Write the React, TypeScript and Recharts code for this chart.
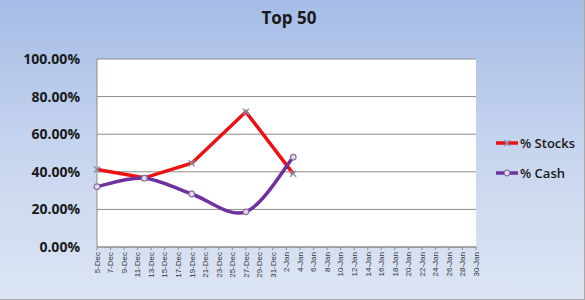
import React from 'react';
import { LineChart, Line, XAxis, YAxis, CartesianGrid } from 'recharts';

// weekly readings (dates on a day axis starting 5-Dec)
const pointDates = ['5-Dec', '12-Dec', '19-Dec', '27-Dec', '3-Jan'];
const stocks = [41.2, 36.8, 44.6, 71.9, 38.9];
const cash = [32.1, 36.6, 28.2, 18.7, 47.8];

const tickLabels = [
  '5-Dec', '7-Dec', '9-Dec', '11-Dec', '13-Dec', '15-Dec', '17-Dec', '19-Dec', '21-Dec', '23-Dec',
  '25-Dec', '27-Dec', '29-Dec', '31-Dec', '2-Jan', '4-Jan', '6-Jan', '8-Jan', '10-Jan', '12-Jan',
  '14-Jan', '16-Jan', '18-Jan', '20-Jan', '22-Jan', '24-Jan', '26-Jan', '28-Jan', '30-Jan',
];
const yTicks = [0, 20, 40, 60, 80, 100];

// day offset from 5-Dec
const dayOf = (s: string) => {
  const [d, m] = s.split('-');
  return m === 'Dec' ? Number(d) - 5 : 26 + Number(d);
};

const data = pointDates.map((d, i) => ({ day: dayOf(d), stocks: stocks[i], cash: cash[i] }));
const xTicks = tickLabels.map(dayOf);

const colors = {
  stocks: '#ee1111',
  cash: '#7030a0',
  grid: '#8c8c8c',
  text: '#1a1a1a',
};

// Excel-like smoothed line (Catmull-Rom)
const smoothCurve = (context: any) => {
  let pts: number[][] = [];
  return {
    areaStart() {},
    areaEnd() {},
    lineStart() {
      pts = [];
    },
    point(x: number, y: number) {
      pts.push([+x, +y]);
    },
    lineEnd() {
      if (!pts.length) return;
      context.moveTo(pts[0][0], pts[0][1]);
      const t = 1 / 6;
      for (let i = 0; i < pts.length - 1; i++) {
        const p0 = pts[i - 1] || pts[i];
        const p1 = pts[i];
        const p2 = pts[i + 1];
        const p3 = pts[i + 2] || p2;
        context.bezierCurveTo(
          p1[0] + (p2[0] - p0[0]) * t,
          p1[1] + (p2[1] - p0[1]) * t,
          p2[0] - (p3[0] - p1[0]) * t,
          p2[1] - (p3[1] - p1[1]) * t,
          p2[0],
          p2[1],
        );
      }
    },
  };
};

const CrossDot = (props: any) => {
  const { cx, cy } = props;
  if (cx == null || cy == null) return null;
  return (
    <g stroke="#7f93b5" strokeWidth={1.4}>
      <line x1={cx - 3} y1={cy - 3} x2={cx + 3} y2={cy + 3} />
      <line x1={cx - 3} y1={cy + 3} x2={cx + 3} y2={cy - 3} />
    </g>
  );
};

const CircleDot = (props: any) => {
  const { cx, cy } = props;
  if (cx == null || cy == null) return null;
  return <circle cx={cx} cy={cy} r={2.8} fill="#e6dcef" stroke="#8a6fa8" strokeWidth={1.2} />;
};

const XTick = ({ x, y, payload }: any) => {
  const idx = xTicks.indexOf(payload.value);
  return (
    <text
      transform={`translate(${x},${y}) rotate(-90)`}
      textAnchor="end"
      dy="0.35em"
      fontSize={8}
      fill="#333"
      fontFamily="'Liberation Sans', Arial, sans-serif"
    >
      {tickLabels[idx]}
    </text>
  );
};

const LegendBox = () => (
  <div
    style={{
      position: 'absolute',
      left: 496,
      top: 128,
      fontFamily: "'Open Sans', sans-serif",
      fontSize: 13,
      fontWeight: 600,
      color: colors.text,
    }}
  >
    {[
      { name: '% Stocks', color: colors.stocks, dot: 'cross' },
      { name: '% Cash', color: colors.cash, dot: 'circle' },
    ].map((e) => (
      <div key={e.name} style={{ display: 'flex', alignItems: 'center', height: 30 }}>
        <svg width={22} height={10} style={{ marginRight: 2 }}>
          <line x1={0} y1={5} x2={22} y2={5} stroke={e.color} strokeWidth={3.5} />
          {e.dot === 'cross' ? <CrossDot cx={11} cy={5} /> : <CircleDot cx={11} cy={5} />}
        </svg>
        <span>{e.name}</span>
      </div>
    ))}
  </div>
);

export default function App() {
  return (
    <div
      style={{
        position: 'absolute',
        left: 0,
        top: 0,
        width: 584,
        height: 299,
        background: 'linear-gradient(to bottom, #a5bce6 0%, #c4d3ee 45%, #dde5f3 100%)',
        borderRight: '1px solid #a9a9a9',
        borderBottom: '1px solid #a9a9a9',
      }}
    >
      <div
        style={{
          position: 'absolute',
          top: 6,
          left: 0,
          width: 578,
          textAlign: 'center',
          fontFamily: "'Open Sans', sans-serif",
          fontWeight: 700,
          fontSize: 17,
          color: colors.text,
        }}
      >
        Top 50
      </div>
      <LegendBox />
      <div style={{ position: 'absolute', left: 0, top: 0 }}>
        <LineChart width={585} height={300} data={data} margin={{ top: 59, right: 109, left: 0, bottom: 0 }}>
          <CartesianGrid vertical={false} stroke={colors.grid} fill="#ffffff" horizontalValues={yTicks} />
          <XAxis
            dataKey="day"
            type="number"
            domain={[0, 56]}
            ticks={xTicks}
            interval={0}
            height={53}
            stroke={colors.grid}
            tickSize={3}
            tickMargin={2}
            tick={<XTick />}
            allowDecimals={false}
          />
          <YAxis
            type="number"
            domain={[0, 100]}
            ticks={yTicks}
            width={97}
            stroke={colors.grid}
            tickLine={false}
            tickSize={0}
            tickMargin={17}
            tickFormatter={(v: number) => `${v.toFixed(2)}%`}
            tick={{ fontSize: 14, fontWeight: 700, fill: colors.text, fontFamily: "'Open Sans', sans-serif" }}
          />
          <Line
            dataKey="stocks"
            name="% Stocks"
            type="linear"
            stroke={colors.stocks}
            strokeWidth={3.5}
            dot={<CrossDot />}
            isAnimationActive={false}
          />
          <Line
            dataKey="cash"
            name="% Cash"
            type={smoothCurve as any}
            stroke={colors.cash}
            strokeWidth={3.5}
            dot={<CircleDot />}
            isAnimationActive={false}
          />
        </LineChart>
      </div>
    </div>
  );
}
